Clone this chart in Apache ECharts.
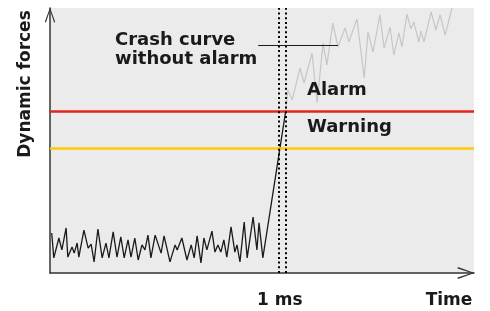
<!DOCTYPE html>
<html>
<head>
<meta charset="utf-8">
<script src="https://cdn.jsdelivr.net/npm/echarts@6/dist/echarts.min.js"></script>
<style>
  html, body { margin: 0; padding: 0; background: #fff; }
  #chart { width: 490px; height: 311px; }
</style>
</head>
<body>
<div id="chart"></div>
<script>
// time axis 0..100, force axis 0..100 (arbitrary units)
var noiseCurve = [
  [0.4, 15.1], [0.9, 5.7], [2.1, 13.2], [2.8, 8.7], [3.8, 17.0], [4.2, 6.0], [5.2, 9.8], [5.7, 7.5],
  [6.4, 11.3], [6.8, 6.0], [8.0, 16.2], [9.0, 9.4], [9.7, 10.9], [10.4, 4.2], [11.3, 16.6], [12.3, 5.7],
  [13.2, 11.3], [13.9, 5.7], [14.9, 15.5], [15.8, 6.0], [16.7, 13.6], [17.5, 5.7], [18.4, 12.5], [19.1, 6.0],
  [20.0, 13.2], [20.8, 4.9], [21.7, 10.6], [22.4, 8.7], [23.1, 14.3], [23.8, 5.7], [24.8, 14.3], [26.2, 7.5],
  [26.9, 14.0], [28.3, 4.2], [29.5, 10.6], [30.0, 8.7], [31.1, 13.2], [32.3, 4.9], [33.3, 10.6], [34.0, 5.7],
  [34.7, 14.0], [35.6, 3.8], [36.3, 13.2], [37.0, 8.7], [38.2, 15.8], [38.9, 7.9], [39.6, 10.6], [40.3, 7.9],
  [41.0, 12.5], [41.7, 6.0], [42.7, 17.4], [43.6, 7.9], [44.1, 10.6], [44.8, 4.2], [45.8, 19.2], [46.5, 5.7],
  [47.9, 21.1], [48.8, 8.7], [49.3, 18.9], [50.2, 5.7], [55.6, 61.2]
];
var crashCurve = [
  [55.6, 61.2], [56.1, 69.1], [57.1, 65.3], [59.0, 77.4], [59.9, 71.7], [61.8, 83.0], [63.0, 64.2],
  [64.4, 86.8], [65.3, 78.5], [66.7, 94.3], [67.9, 85.3], [69.6, 92.5], [70.5, 87.2], [72.4, 95.8],
  [74.1, 73.6], [75.0, 90.9], [76.2, 83.4], [77.8, 97.4], [78.8, 84.9], [80.2, 92.8], [81.1, 82.3],
  [82.3, 90.6], [83.0, 85.3], [84.2, 97.7], [85.1, 92.1], [85.8, 94.7], [87.0, 87.2], [87.5, 91.3],
  [88.2, 87.2], [89.9, 98.5], [91.0, 91.7], [92.0, 97.4], [93.2, 89.8], [94.8, 100]
];
var alarmLevel = 61.1;
var warningLevel = 47.2;
var markTimes = [54.0, 55.7];
var leaderLine = [[49.1, 86.0], [67.9, 86.0]];
var tickValues = [54.2, 94.1];
var tickLabels = ['1 ms', 'Time'];

var FONT = 'DejaVu Sans';
var chevron = 'path://M5 0 L10 14 L8.9 14.4 L5 2.6 L1.1 14.4 L0 14 Z';

var dom = document.getElementById('chart');
var myChart = echarts.init(dom, null, { renderer: 'canvas' });
var option = {
    animation: false,
    grid: {
        left: 50, right: 16, top: 8, bottom: 38,
        show: true,
        backgroundColor: '#ebebeb',
        borderWidth: 0
    },
    xAxis: {
        type: 'value',
        min: 0, max: 100,
        axisLine: {
            show: true,
            lineStyle: { color: '#333', width: 1.5 },
            symbol: ['none', chevron],
            symbolSize: [14, 17],
            symbolOffset: [0, -8]
        },
        axisTick: { show: false },
        splitLine: { show: false },
        axisLabel: {
            customValues: tickValues,
            margin: 18,
            color: '#1a1a1a',
            fontFamily: FONT,
            fontWeight: 'bold',
            fontSize: 17,
            lineHeight: 19,
            formatter: function (v) {
                return tickLabels[tickValues.indexOf(v)];
            }
        }
    },
    yAxis: {
        type: 'value',
        min: 0, max: 100,
        axisLine: {
            show: true,
            lineStyle: { color: '#333', width: 1.5 },
            symbol: ['none', chevron],
            symbolSize: [13, 15],
            symbolOffset: [0, -7]
        },
        axisTick: { show: false },
        axisLabel: { show: false },
        splitLine: { show: false }
    },
    series: [
        {
            type: 'line',
            data: crashCurve,
            symbol: 'none',
            lineStyle: { color: '#c6c6c6', width: 1.2 },
            z: 2
        },
        {
            type: 'line',
            data: noiseCurve,
            symbol: 'none',
            lineStyle: { color: '#1a1a1a', width: 1.3 },
            z: 4,
            markLine: {
                silent: true,
                symbol: 'none',
                label: { show: false },
                data: [
                    { yAxis: warningLevel, lineStyle: { color: '#fdcb00', width: 2.5, type: 'solid' } },
                    { yAxis: alarmLevel, lineStyle: { color: '#e2261b', width: 2.5, type: 'solid' } },
                    { xAxis: markTimes[0], lineStyle: { color: '#000', width: 2, type: [2, 2.7] } },
                    { xAxis: markTimes[1], lineStyle: { color: '#000', width: 2, type: [2, 2.7] } },
                    [
                        { coord: leaderLine[0], lineStyle: { color: '#1a1a1a', width: 1, type: 'solid' } },
                        { coord: leaderLine[1] }
                    ]
                ]
            }
        }
    ],
    graphic: [
        {
            type: 'text', left: null, x: 115, y: 31, z: 10,
            style: {
                text: 'Crash curve\nwithout alarm',
                font: 'bold 18px "' + FONT + '"',
                lineHeight: 19,
                fill: '#1a1a1a',
                textVerticalAlign: 'top'
            }
        },
        {
            type: 'text', x: 307, y: 81, z: 10,
            style: {
                text: 'Alarm',
                font: 'bold 18px "' + FONT + '"',
                lineHeight: 19,
                fill: '#1a1a1a',
                textVerticalAlign: 'top'
            }
        },
        {
            type: 'text', x: 307, y: 118, z: 10,
            style: {
                text: 'Warning',
                font: 'bold 18px "' + FONT + '"',
                lineHeight: 19,
                fill: '#1a1a1a',
                textVerticalAlign: 'top'
            }
        },
        {
            type: 'text', x: 25.5, y: 84, rotation: Math.PI / 2, z: 10,
            style: {
                text: 'Dynamic forces',
                font: 'bold 17px "' + FONT + '"',
                fill: '#1a1a1a',
                textAlign: 'center',
                textVerticalAlign: 'middle'
            }
        }
    ]
};
myChart.setOption(option, true);
</script>
</body>
</html>
